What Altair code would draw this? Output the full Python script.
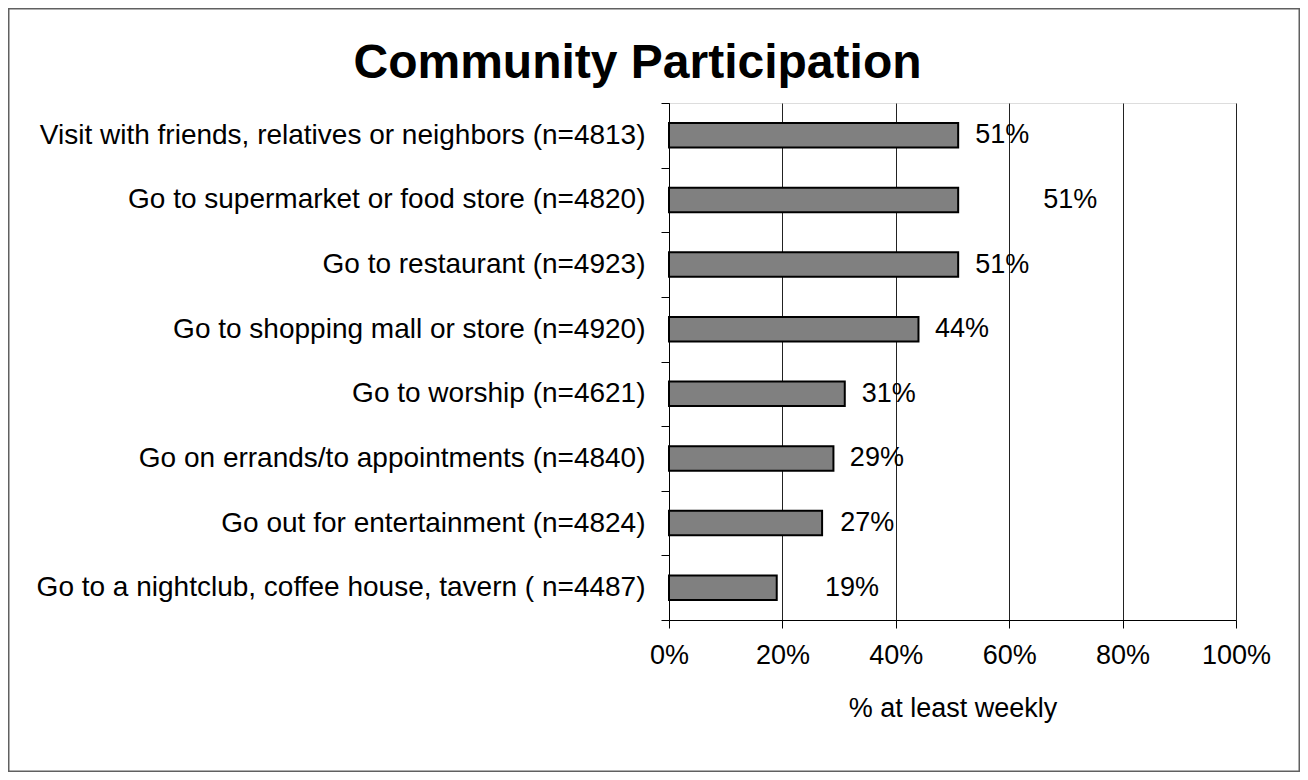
import altair as alt
import pandas as pd

categories = [
    "Visit with friends, relatives or neighbors (n=4813)",
    "Go to supermarket or food store (n=4820)",
    "Go to restaurant (n=4923)",
    "Go to shopping mall or store (n=4920)",
    "Go to worship (n=4621)",
    "Go on errands/to appointments (n=4840)",
    "Go out for entertainment (n=4824)",
    "Go to a nightclub, coffee house, tavern ( n=4487)",
]
values = [51, 51, 51, 44, 31, 29, 27, 19]
label_at = [54.0, 66.0, 54.0, 46.9, 34.0, 31.9, 30.2, 27.5]
x_ticks = [0, 20, 40, 60, 80, 100]

df = pd.DataFrame({
    "activity": categories,
    "pct": values,
    "label_x": label_at,
    "label": [f"{v}%" for v in values],
})

FONT = "Liberation Sans"
W, H = 567, 517

y_enc = alt.Y(
    "activity:N",
    sort=categories,
    title=None,
    scale=alt.Scale(paddingInner=0, paddingOuter=0),
    axis=alt.Axis(
        tickBand="extent",
        tickSize=8,
        labelPadding=16,
        labelFontSize=28,
        labelFont=FONT,
        labelColor="black",
        domainColor="black",
        tickColor="black",
        labelLimit=1000,
        grid=False,
    ),
)

x_enc = alt.X(
    "pct:Q",
    scale=alt.Scale(domain=[0, 100]),
    axis=alt.Axis(
        values=x_ticks,
        labelExpr="datum.value + '%'",
        labelFlush=False,
        title="% at least weekly",
        tickSize=8,
        labelPadding=14,
        labelFontSize=27,
        labelFont=FONT,
        labelColor="black",
        titleFontSize=27,
        titleFont=FONT,
        titleFontWeight="normal",
        titleColor="black",
        titlePadding=27,
        domainColor="black",
        tickColor="black",
        grid=True,
        gridColor="#222222",
        gridWidth=1,
        gridOpacity=1,
    ),
)

bars = alt.Chart(df).mark_bar(
    color="#808080", stroke="black", strokeWidth=2, height={"band": 0.38}
).encode(x=x_enc, y=y_enc)

labels = alt.Chart(df).mark_text(
    align="left", baseline="middle", fontSize=27, font=FONT, color="black"
).encode(
    x=alt.X("label_x:Q"),
    y=alt.Y("activity:N", sort=categories),
    text="label:N",
)

frame = alt.Chart(pd.DataFrame({"f": [0]})).mark_rect(
    fillOpacity=0, stroke="#606060", strokeWidth=1.5
).encode(
    x=alt.value(-660.25),
    x2=alt.value(W + 63.25),
    y=alt.value(-94.25),
    y2=alt.value(H + 151.25),
)

chart = alt.layer(frame, bars, labels).properties(
    width=W,
    height=H,
    padding={"left": 661, "top": 95, "right": 64, "bottom": 152},
    autosize=alt.AutoSizeParams(type="none"),
    title=alt.TitleParams(
        "Community Participation",
        font=FONT,
        fontSize=48,
        fontWeight="bold",
        color="black",
        anchor="middle",
        baseline="alphabetic",
        offset=-118,
        dx=-315,
    ),
).configure_view(strokeWidth=0).configure(background="white")

chart.save("out.html", embed_options={"renderer": "svg", "actions": False})
